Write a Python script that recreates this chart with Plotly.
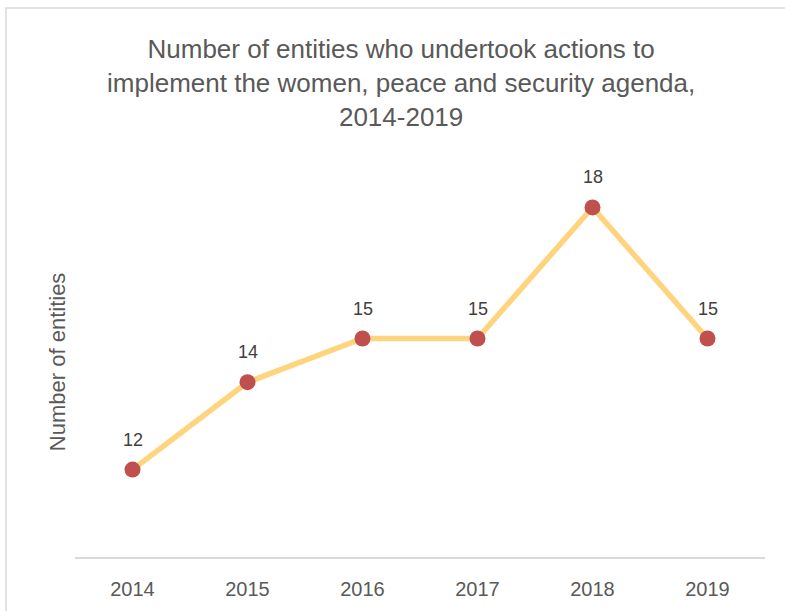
import plotly.graph_objects as go

years = ["2014", "2015", "2016", "2017", "2018", "2019"]
entities = [12, 14, 15, 15, 18, 15]

title_text = ("Number of entities who undertook actions to<br>"
              "implement the women, peace and security agenda,<br>"
              "2014-2019")
y_title = "Number of entities"

FONT = "Liberation Sans"

fig = go.Figure()
fig.add_trace(go.Scatter(
    x=years, y=entities,
    mode="lines+markers",
    line=dict(color="#FFD47F", width=5.5),
    marker=dict(color="#C0504D", size=16),
    cliponaxis=False,
    hoverinfo="skip",
))

annotations = [
    dict(x=i, y=yv, xref="x", yref="y", text=str(yv), showarrow=False,
         yshift=30, font=dict(family=FONT, size=18, color="#404040"))
    for i, yv in enumerate(entities)
]
annotations.append(dict(
    x=-0.026, y=0.446, xref="paper", yref="paper", text=y_title, textangle=-90,
    showarrow=False, xanchor="center", yanchor="middle",
    font=dict(family=FONT, size=22, color="#595959")))

fig.update_layout(
    width=785, height=611,
    margin=dict(l=75, r=20, t=120, b=54),
    paper_bgcolor="white", plot_bgcolor="white",
    showlegend=False,
    title=dict(text=title_text, x=0.511, xanchor="center", xref="container",
               y=1 - 58 / 611, yanchor="middle", yref="container",
               font=dict(family=FONT, size=26, color="#595959")),
    xaxis=dict(type="category", range=[-0.5, 5.5], showline=True,
               linecolor="#D9D9D9", linewidth=1.5,
               showgrid=False, ticks="", zeroline=False, ticklabelstandoff=13,
               tickfont=dict(family=FONT, size=20, color="#595959")),
    yaxis=dict(range=[10, 20], showgrid=False, showline=False, showticklabels=False,
               zeroline=False, ticks=""),
    annotations=annotations,
    shapes=[dict(type="rect", xref="paper", yref="paper",
                 x0=-0.1, x1=1.2, y0=-0.3, y1=1.2563,
                 line=dict(color="#D9D9D9", width=1.5), fillcolor="rgba(0,0,0,0)")],
)

fig.write_html("out.html", config={"displayModeBar": False},
               post_script="document.body.style.margin='0px';")
